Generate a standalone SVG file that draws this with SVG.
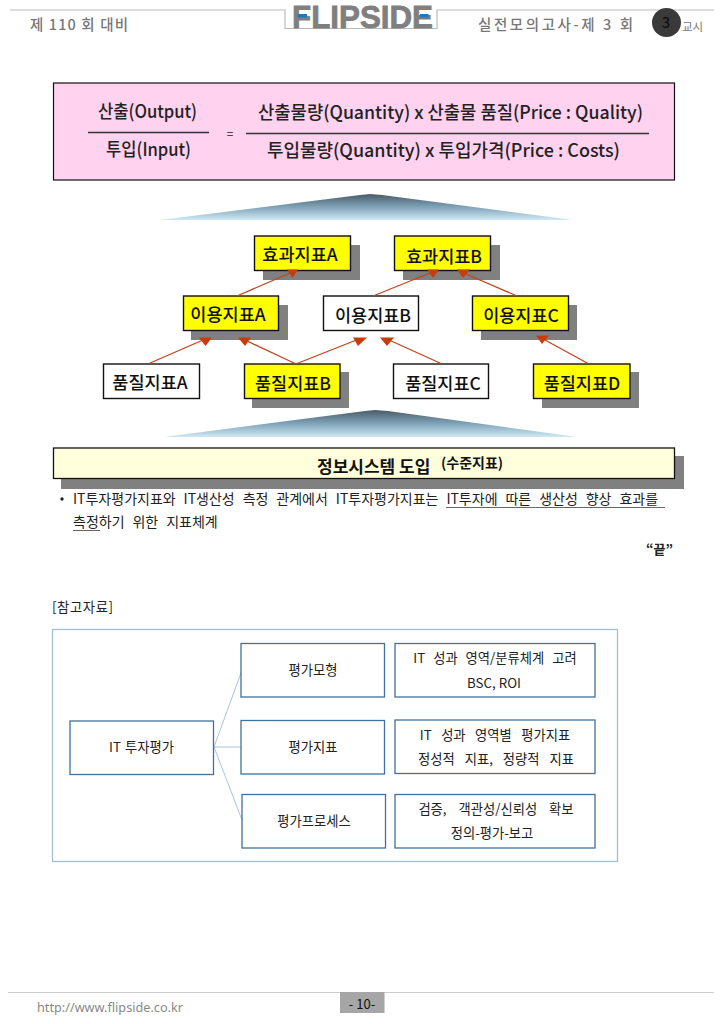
<svg xmlns="http://www.w3.org/2000/svg" width="724" height="1024" viewBox="0 0 724 1024">
<style>
text{font-family:"Noto Sans CJK KR","Noto Sans",sans-serif;fill:#222}
.c{text-anchor:middle}
.hd{font-size:14.5px;fill:#777;font-weight:500}
.f{font-size:18px;fill:#222;font-weight:500}
.n{stroke:#111;stroke-width:1.4}
.y{fill:#ffff00}.w{fill:#fff}
.s{fill:#808080}
.t{font-size:17.5px;font-weight:500;fill:#111}
.b{font-size:13.3px;fill:#222}
.p{font-size:14px;fill:#222;word-spacing:4.800px}
.r{fill:#fff;stroke:#41719c;stroke-width:1.3}
.a{stroke:#c0441c;stroke-width:1.3;fill:none}
.h{fill:#c63c0c}
.l{stroke:#a6c6dc;stroke-width:1;fill:none}
.rule{stroke:#bbb;stroke-width:1.2;fill:none}
</style>
<defs>
<linearGradient id="tri" x1="0" y1="0" x2="0" y2="1"><stop offset="0" stop-color="#4a5a66"/><stop offset="0.5" stop-color="#7fa3b8"/><stop offset="1" stop-color="#cfe8f6"/></linearGradient>
</defs>
<g id="header">
<polyline class="rule" points="10,10 285,10 285,28.500 437,28.500 437,10 714,10"/>
<text class="hd" x="30" y="30" textLength="98">제 110 회 대비</text>
<text x="292" y="28" font-size="32" font-weight="700" stroke="#7f7f7f" stroke-width="0.8" style="fill:#7f7f7f;font-family:'Liberation Sans',sans-serif" textLength="141" lengthAdjust="spacingAndGlyphs">FLIPSIDE</text>
<rect x="298" y="14" width="9" height="3.500" fill="#1a7ac0"/>
<rect x="420" y="14" width="8.500" height="3.500" fill="#1a7ac0"/>
<text class="hd" x="478" y="30" textLength="155">실전모의고사-제 3 회</text>
<circle cx="666.500" cy="22.500" r="14.500" fill="#3a3a3a"/>
<text x="666" y="28" class="c" style="font-size:15px;fill:#111;font-weight:500">3</text>
<text x="682" y="31" style="font-size:11.5px;fill:#777">교시</text>
</g>
<g id="formula">
<rect x="53.500" y="83" width="621" height="97" fill="#ffd2f0" stroke="#111" stroke-width="1.2"/>
<text class="f" x="98" y="118" textLength="99" lengthAdjust="spacingAndGlyphs">산출(Output)</text>
<line x1="88" y1="132.500" x2="209" y2="132.500" stroke="#333" stroke-width="1.3"/>
<text class="f" x="106" y="156" textLength="85" lengthAdjust="spacingAndGlyphs">투입(Input)</text>
<text x="230" y="138" class="c" style="font-size:12px">=</text>
<text class="f" x="258" y="119" textLength="385" lengthAdjust="spacingAndGlyphs">산출물량(Quantity) x 산출물 품질(Price : Quality)</text>
<line x1="246" y1="133.500" x2="649" y2="133.500" stroke="#333" stroke-width="1.6"/>
<text class="f" x="267" y="157" textLength="353" lengthAdjust="spacingAndGlyphs">투입물량(Quantity) x 투입가격(Price : Costs)</text>
</g>
<polygon id="tri-top" points="160,220 360,195 370,194 382,195 573,220" fill="url(#tri)"/>
<polygon id="tri-bottom" points="164,437 365,411 375,410 388,411 577,437" fill="url(#tri)"/>
<g id="hyo-a"><rect class="s" x="263" y="245" width="97" height="35"/><rect class="y n" x="254.500" y="236" width="96" height="34.500"/><text class="t c" x="300" y="261">효과지표A</text></g>
<g id="hyo-b"><rect class="s" x="403" y="245" width="97" height="35"/><rect class="y n" x="394.500" y="236" width="96" height="34.500"/><text class="t c" x="444" y="263">효과지표B</text></g>
<g id="iyong-a"><rect class="s" x="191" y="305" width="97" height="35"/><rect class="y n" x="183.500" y="296" width="95" height="34.500"/><text class="t c" x="228" y="321">이용지표A</text></g>
<g id="iyong-b"><rect class="w n" x="323.500" y="296" width="95" height="34.500"/><text class="t c" x="373" y="322">이용지표B</text></g>
<g id="iyong-c"><rect class="s" x="481" y="305" width="96" height="35"/><rect class="y n" x="472.500" y="296" width="96" height="34.500"/><text class="t c" x="521" y="322">이용지표C</text></g>
<g id="pum-a"><rect class="w n" x="103.500" y="364" width="96" height="34.500"/><text class="t c" x="150" y="389">품질지표A</text></g>
<g id="pum-b"><rect class="s" x="252" y="372" width="97" height="36"/><rect class="y n" x="244.500" y="364" width="95.500" height="34.500"/><text class="t c" x="293" y="390">품질지표B</text></g>
<g id="pum-c"><rect class="w n" x="393.500" y="364" width="95" height="34.500"/><text class="t c" x="443" y="390">품질지표C</text></g>
<g id="pum-d"><rect class="s" x="542" y="372" width="97" height="36"/><rect class="y n" x="533.500" y="364" width="96.500" height="34.500"/><text class="t c" x="582" y="390">품질지표D</text></g>
<g id="connectors">
<line class="a" x1="237" y1="296" x2="290" y2="273"/><polygon class="h" points="287,269.500 298,269.500 292.500,278"/>
<line class="a" x1="373" y1="296" x2="430" y2="273"/><polygon class="h" points="427,269.500 439,269.500 433,278"/>
<line class="a" x1="517" y1="296" x2="466" y2="274"/><polygon class="h" points="457,269.500 470,269.500 463,278"/>
<line class="a" x1="149" y1="363.500" x2="203" y2="340"/><polygon class="h" points="199,337.500 212,337.500 205.500,346"/>
<line class="a" x1="295" y1="363.500" x2="247" y2="341"/><polygon class="h" points="238,337.500 251,337.500 245,346"/>
<line class="a" x1="297" y1="363.500" x2="359" y2="339"/><polygon class="h" points="353,337.500 367,337.500 358,346"/>
<line class="a" x1="441" y1="363.500" x2="389" y2="340"/><polygon class="h" points="380,337.500 394,337.500 387,346"/>
<line class="a" x1="588" y1="363.500" x2="545" y2="340"/><polygon class="h" points="536,335.500 549,335.500 542,344"/>
</g>
<g id="sys">
<rect class="s" x="61" y="456" width="623" height="33"/>
<rect x="53.500" y="448" width="621" height="30.500" fill="#ffffdc" stroke="#111" stroke-width="1.3"/>
<text x="317" y="473" style="font-size:17px;font-weight:700;fill:#111">정보시스템 도입</text>
<text x="441" y="468" style="font-size:14px;font-weight:700;fill:#111">(수준지표)</text>
</g>
<g id="body">
<circle cx="62" cy="499" r="1.700" fill="#222"/>
<text class="p" x="73" y="504">IT투자평가지표와 IT생산성 측정 관계에서 IT투자평가지표는 IT투자에 따른 생산성 향상 효과를</text>
<line x1="446" y1="507.500" x2="665" y2="507.500" stroke="#666" stroke-width="1"/>
<text class="p" x="73" y="527">측정하기 위한 지표체계</text>
<line x1="73" y1="530.500" x2="100" y2="530.500" stroke="#666" stroke-width="1"/>
<text x="646" y="554" style="font-size:13px;font-weight:700">“끝”</text>
<text class="b" x="52" y="612" textLength="61">[참고자료]</text>
</g>
<rect id="ref-frame" x="52.500" y="629.500" width="565" height="232" fill="#fff" stroke="#a4bfd2" stroke-width="1.300"/>
<g id="connectors-ref">
<line class="l" x1="214" y1="747" x2="241.500" y2="671.500"/>
<line class="l" x1="214" y1="747" x2="241" y2="747"/>
<line class="l" x1="214" y1="747" x2="242" y2="820"/>
</g>
<g id="it"><rect class="r" x="70" y="721" width="143.500" height="53.500"/><text class="b c" x="141.500" y="752" style="word-spacing:1px">IT 투자평가</text></g>
<g id="m1"><rect class="r" x="241" y="643.500" width="143.500" height="53.500"/><text class="b c" x="313" y="675">평가모형</text></g>
<g id="m2"><rect class="r" x="241" y="720.500" width="143.500" height="53.500"/><text class="b c" x="313" y="752">평가지표</text></g>
<g id="m3"><rect class="r" x="242" y="794.500" width="143.500" height="53.500"/><text class="b c" x="314" y="826">평가프로세스</text></g>
<g id="d1"><rect class="r" x="395" y="643.500" width="200" height="53.500"/><text class="b c" x="495" y="663" style="word-spacing:5px">IT 성과 영역/분류체계 고려</text><text class="b c" x="494" y="688">BSC, ROI</text></g>
<g id="d2"><rect class="r" x="395" y="720" width="200" height="53.500"/><text class="b c" x="495" y="740" style="word-spacing:6.500px">IT 성과 영역별 평가지표</text><text class="b c" x="496" y="764" style="word-spacing:7px">정성적 지표, 정량적 지표</text></g>
<g id="d3"><rect class="r" x="395" y="794.500" width="200" height="53.500"/><text class="b c" x="496" y="814" style="word-spacing:9px">검증, 객관성/신뢰성 확보</text><text class="b c" x="492" y="838">정의-평가-보고</text></g>
<g id="footer">
<line x1="8" y1="992.500" x2="714" y2="992.500" stroke="#ccc" stroke-width="1.2"/>
<text x="37" y="1012" style="font-size:13px;fill:#888;font-family:'Noto Sans',sans-serif" textLength="146" lengthAdjust="spacingAndGlyphs">http://www.flipside.co.kr</text>
<rect x="340" y="992" width="44.500" height="21" fill="#a6a6a6"/>
<text x="362" y="1009" class="c" style="font-size:13px;fill:#111">- 10-</text>
</g>
</svg>
